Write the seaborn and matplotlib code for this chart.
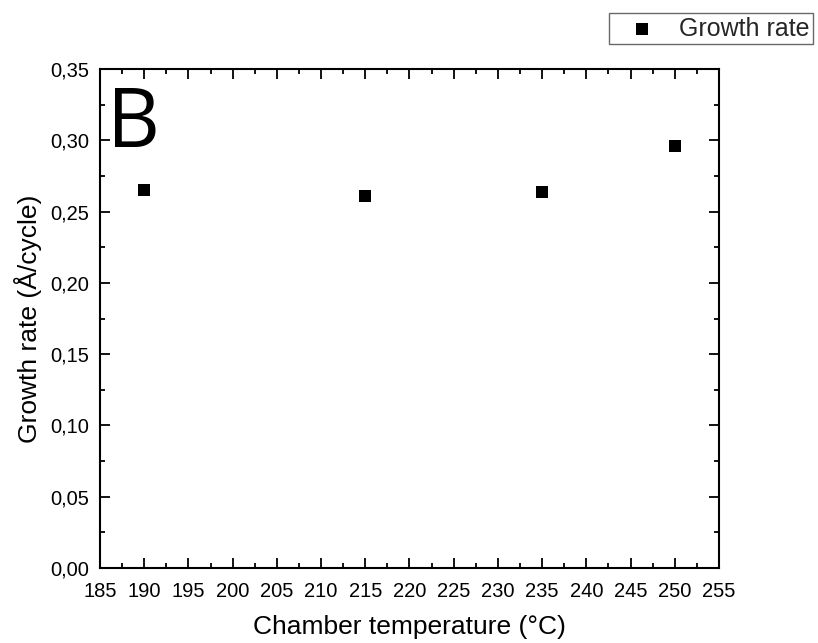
import matplotlib
matplotlib.use("Agg")
import matplotlib.pyplot as plt
from matplotlib.ticker import MultipleLocator, FuncFormatter
import seaborn as sns
import pandas as pd

# Growth per cycle measured at each chamber temperature
temperature_c = [190, 215, 235, 250]
growth_rate = [0.265, 0.261, 0.264, 0.296]

sns.set_theme(style="white")
plt.rcParams["font.family"] = ["Liberation Sans", "DejaVu Sans"]

df = pd.DataFrame({"Chamber temperature (°C)": temperature_c,
                   "Growth rate": growth_rate})

fig = plt.figure(figsize=(8.18, 6.43), dpi=100)
ax = fig.add_axes([0.1222, 0.1166, 0.7568, 0.7761])

sns.scatterplot(data=df, x="Chamber temperature (°C)", y="Growth rate",
                marker="s", s=70, color="black", edgecolor="black",
                linewidth=0, ax=ax, label="Growth rate", legend=False)

ax.set_xlim(185, 255)
ax.set_ylim(0, 0.35)
ax.xaxis.set_major_locator(MultipleLocator(5))
ax.xaxis.set_minor_locator(MultipleLocator(2.5))
ax.yaxis.set_major_locator(MultipleLocator(0.05))
ax.yaxis.set_minor_locator(MultipleLocator(0.025))
ax.yaxis.set_major_formatter(FuncFormatter(lambda v, p: f"{v:.2f}".replace(".", ",")))

ax.tick_params(which="both", direction="in", top=True, right=True,
               bottom=True, left=True,
               color="black", width=1.3, labelsize=14.5, labelcolor="black")
ax.tick_params(which="major", length=7)
ax.tick_params(which="minor", length=3.5)
ax.tick_params(axis="y", which="major", pad=7.5)
ax.tick_params(axis="x", which="major", pad=10)

for sp in ax.spines.values():
    sp.set_color("black")
    sp.set_linewidth(1.5)

ax.set_xlabel("Chamber temperature (°C)", fontsize=19, color="black", labelpad=10.5)
ax.set_ylabel("Growth rate (Å/cycle)", fontsize=19, color="black", labelpad=6)

ax.text(0.012, 0.844, "B", transform=ax.transAxes, fontsize=59,
        family="Open Sans", color="black", va="baseline", ha="left")

handles, labels = ax.get_legend_handles_labels()
fig.legend(handles, labels, loc="upper right", bbox_to_anchor=(0.9939, 0.9798),
           frameon=True, fancybox=False, edgecolor="#444444", fontsize=18,
           handletextpad=0.33, borderpad=0.15, handlelength=2.3,
           borderaxespad=0)

fig.savefig("out.png", dpi=100, facecolor="white")
